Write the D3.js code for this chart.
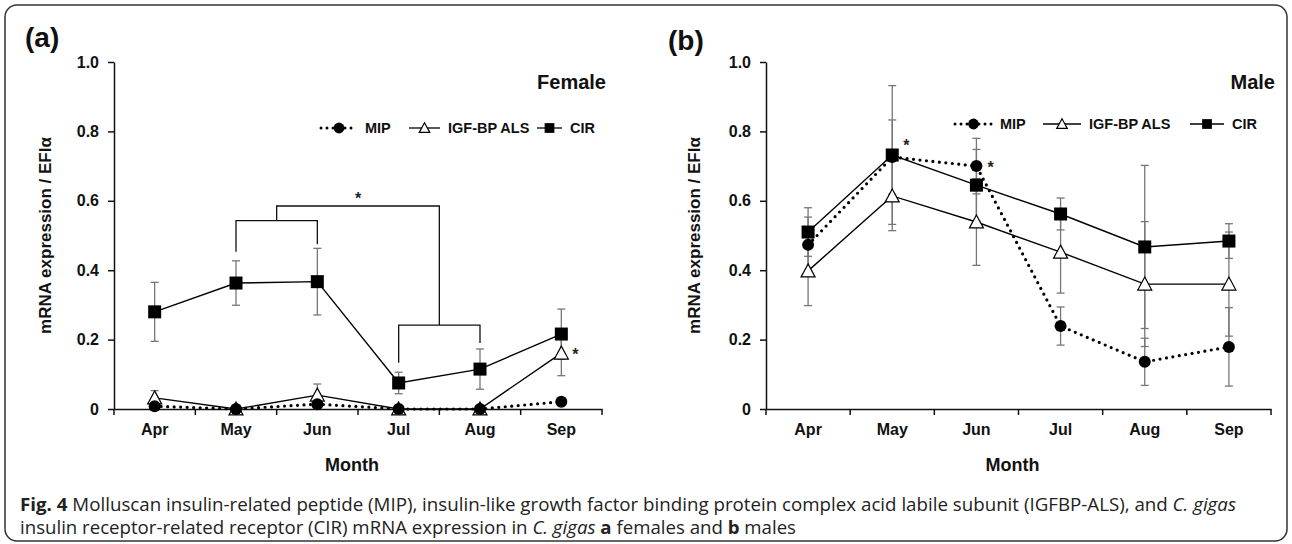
<!DOCTYPE html>
<html>
<head>
<meta charset="utf-8">
<script src="https://cdn.jsdelivr.net/npm/d3@7"></script>
<style>
  body { margin: 0; background: #fff; }
  svg { display: block; }
  .tick text { font-family: "Liberation Sans", Arial, sans-serif; font-weight: bold; }
</style>
</head>
<body>
<script>
// ---- data ----
var months = ["Apr", "May", "Jun", "Jul", "Aug", "Sep"];
var yTicks = [0, 0.2, 0.4, 0.6, 0.8, 1.0];
var seriesNames = ["MIP", "IGF-BP ALS", "CIR"];

// Female
var femaleMIP = [0.008, 0.0, 0.014, 0.0, 0.0, 0.021];
var femaleMIPErr = [0, 0, 0, 0, 0, 0];
var femaleIGF = [0.032, 0.0, 0.04, 0.0, 0.0, 0.161];
var femaleIGFErr = [0.021, 0, 0.032, 0, 0, 0.065];
var femaleCIR = [0.28, 0.363, 0.367, 0.075, 0.115, 0.216];
var femaleCIRErr = [0.085, 0.064, 0.096, 0.031, 0.058, 0.072];

// Male
var maleMIP = [0.473, 0.726, 0.70, 0.239, 0.136, 0.179];
var maleMIPErr = [0.08, 0.107, 0.08, 0.055, 0.068, 0.113];
var maleIGF = [0.398, 0.614, 0.539, 0.452, 0.36, 0.36];
var maleIGFErr = [0.1, 0.1, 0.125, 0.118, 0.18, 0.15];
var maleCIR = [0.51, 0.732, 0.645, 0.562, 0.467, 0.484];
var maleCIRErr = [0.07, 0.2, 0.103, 0.046, 0.235, 0.05];

// significance marks
var femaleStars = [{ month: "Sep", value: 0.161 }];
var maleStars = [{ month: "May", value: 0.765 }, { month: "Jun", value: 0.70 }];

var W = 1292, H = 544;
var FONT = '"Liberation Sans", Arial, sans-serif';

var svg = d3.select("body").append("svg")
    .attr("width", W)
    .attr("height", H);

// outer frame
svg.append("rect")
    .attr("x", 5).attr("y", 5)
    .attr("width", W - 10).attr("height", H - 8)
    .attr("rx", 12)
    .attr("fill", "none")
    .attr("stroke", "#333")
    .attr("stroke-width", 1.5);

var panels = [
    {
        tag: "(a)", title: "Female", left: 114, right: 602, tagX: 25, tagY: 47,
        mip: femaleMIP, mipErr: femaleMIPErr, igf: femaleIGF, igfErr: femaleIGFErr,
        cir: femaleCIR, cirErr: femaleCIRErr, stars: femaleStars,
        legendY: 128, legendX: [321, 409, 537], legLen: [36, 31, 25], ylabX: 45
    },
    {
        tag: "(b)", title: "Male", left: 766, right: 1271, tagX: 668, tagY: 50,
        mip: maleMIP, mipErr: maleMIPErr, igf: maleIGF, igfErr: maleIGFErr,
        cir: maleCIR, cirErr: maleCIRErr, stars: maleStars,
        legendY: 124, legendX: [955, 1043, 1190], legLen: [37, 38, 34], ylabX: 694
    }
];

panels.forEach(drawPanel);

function drawPanel(p) {
    var g = svg.append("g");

    var x = d3.scaleBand().domain(months).range([p.left, p.right]).padding(0);
    var y = d3.scaleLinear().domain([0, 1]).range([409, 62]);
    var cx = function (i) { return x(months[i]) + x.bandwidth() / 2; };

    // y axis
    var yAxis = d3.axisLeft(y)
        .tickValues(yTicks)
        .tickSize(6)
        .tickSizeOuter(0)
        .tickPadding(9)
        .tickFormat(function (d) { return d === 0 ? "0" : d3.format(".1f")(d); });
    var ya = g.append("g").attr("transform", "translate(" + p.left + ",0)").call(yAxis);
    ya.selectAll("text").style("font-size", "16px").attr("fill", "#111");
    ya.selectAll("line, path").attr("stroke", "#111").attr("stroke-width", 1.5);

    // x axis: line, boundary ticks, centred labels
    var xAxis = d3.axisBottom(x).tickSize(0).tickSizeOuter(0).tickPadding(15);
    var xa = g.append("g").attr("transform", "translate(0,409)").call(xAxis);
    xa.selectAll("text").style("font-size", "16px").attr("fill", "#111");
    xa.select("path").attr("stroke", "#111").attr("stroke-width", 1.5);
    g.selectAll("line.xb")
        .data(d3.range(months.length + 1))
        .enter().append("line")
        .attr("class", "xb")
        .attr("x1", function (i) { return p.left + i * x.bandwidth(); })
        .attr("x2", function (i) { return p.left + i * x.bandwidth(); })
        .attr("y1", 409).attr("y2", 415)
        .attr("stroke", "#111").attr("stroke-width", 1.5);

    // axis titles
    g.append("text")
        .attr("x", (p.left + p.right) / 2 - 6).attr("y", 471)
        .attr("text-anchor", "middle")
        .style("font", "bold 18px " + FONT).attr("fill", "#111")
        .text("Month");
    g.append("text")
        .attr("transform", "translate(" + (p.ylabX + 6) + "," + y(0.5) + ") rotate(-90)")
        .attr("text-anchor", "middle")
        .style("font", "bold 17px " + FONT).attr("fill", "#111")
        .text("mRNA expression / EFIα");

    // panel tag and sex label
    g.append("text").attr("x", p.tagX).attr("y", p.tagY)
        .style("font", "bold 28px " + FONT).attr("fill", "#111").text(p.tag);
    g.append("text").attr("x", p.right + 4).attr("y", 89)
        .attr("text-anchor", "end")
        .style("font", "bold 20px " + FONT).attr("fill", "#111").text(p.title);

    if (p.tag === "(a)") drawBrackets(g, x, y, cx);

    var series = [
        { name: "CIR", v: p.cir, e: p.cirErr, type: "square", dotted: false },
        { name: "IGF-BP ALS", v: p.igf, e: p.igfErr, type: "triangle", dotted: false },
        { name: "MIP", v: p.mip, e: p.mipErr, type: "circle", dotted: true }
    ];

    // error bars first (grey), so markers sit on top
    series.forEach(function (s) {
        s.v.forEach(function (v, i) {
            if (!s.e[i]) return;
            var x0 = cx(i), top = y(v + s.e[i]), bot = y(Math.max(0, v - s.e[i]));
            var eb = g.append("g").attr("stroke", "#777").attr("stroke-width", 1.3);
            eb.append("line").attr("x1", x0).attr("x2", x0).attr("y1", top).attr("y2", bot);
            eb.append("line").attr("x1", x0 - 4).attr("x2", x0 + 4).attr("y1", top).attr("y2", top);
            if (v - s.e[i] > 0)
                eb.append("line").attr("x1", x0 - 4).attr("x2", x0 + 4).attr("y1", bot).attr("y2", bot);
        });
    });

    var line = d3.line()
        .x(function (d, i) { return cx(i); })
        .y(function (d) { return y(d); });

    series.forEach(function (s) {
        g.append("path")
            .datum(s.v)
            .attr("d", line)
            .attr("fill", "none")
            .attr("stroke", "#000")
            .attr("stroke-width", s.dotted ? 3.2 : 1.4)
            .attr("stroke-linecap", s.dotted ? "round" : "butt")
            .attr("stroke-dasharray", s.dotted ? "0 6.5" : null);
    });

    series.forEach(function (s) {
        s.v.forEach(function (v, i) {
            marker(g, s.type, cx(i), y(v));
        });
    });

    // significance stars
    g.selectAll("text.star")
        .data(p.stars)
        .enter().append("text")
        .attr("x", function (d) { return x(d.month) + x.bandwidth() / 2 + 11; })
        .attr("y", function (d) { return y(d.value) + 7; })
        .style("font", "bold 16px " + FONT).attr("fill", "#222")
        .text("*");

    // legend
    var leg = g.append("g").attr("transform", "translate(0," + p.legendY + ")");
    var legTypes = ["circle", "triangle", "square"];
    seriesNames.forEach(function (name, k) {
        var lx = p.legendX[k], len = p.legLen[k];
        leg.append("line")
            .attr("x1", lx).attr("x2", lx + len)
            .attr("stroke", "#000")
            .attr("stroke-width", k === 0 ? 3 : 1.3)
            .attr("stroke-linecap", k === 0 ? "round" : "butt")
            .attr("stroke-dasharray", k === 0 ? "0 6" : null);
        marker(leg, legTypes[k], lx + len / 2, 0, k === 0 ? 0.9 : 0.75);
        leg.append("text")
            .attr("x", lx + len + 8).attr("y", 5)
            .style("font", "bold 14.5px " + FONT).attr("fill", "#111")
            .text(name);
    });
}

function marker(g, type, x0, y0, k) {
    k = k || 1;
    if (type === "circle") {
        g.append("circle").attr("cx", x0).attr("cy", y0).attr("r", 6 * k).attr("fill", "#000");
    } else if (type === "square") {
        var s = 13 * k;
        g.append("rect").attr("x", x0 - s / 2).attr("y", y0 - s / 2)
            .attr("width", s).attr("height", s).attr("fill", "#000");
    } else {
        var t = 7 * k;
        g.append("path")
            .attr("d", "M" + x0 + "," + (y0 - t) + "L" + (x0 + t) + "," + (y0 + t * 0.85) +
                "L" + (x0 - t) + "," + (y0 + t * 0.85) + "Z")
            .attr("fill", "#fff").attr("stroke", "#000").attr("stroke-width", 1.2);
    }
}

// brackets for the female May/Jun vs Jul/Aug comparison
function drawBrackets(g, x, y, cx) {
    var mid1 = (cx(1) + cx(2)) / 2, mid2 = (cx(3) + cx(4)) / 2;
    g.append("path")
        .attr("d",
            "M" + cx(1) + "," + y(0.453) + "V" + y(0.543) + "H" + cx(2) + "V" + y(0.475) +
            "M" + mid1 + "," + y(0.543) + "V" + y(0.585) + "H" + mid2 + "V" + y(0.242) +
            "M" + cx(3) + "," + y(0.133) + "V" + y(0.242) + "H" + cx(4) + "V" + y(0.19))
        .attr("fill", "none")
        .attr("stroke", "#111")
        .attr("stroke-width", 1.3);
    g.append("text")
        .attr("x", (mid1 + mid2) / 2).attr("y", y(0.585) - 2)
        .attr("text-anchor", "middle")
        .style("font", "bold 16px " + FONT).attr("fill", "#222")
        .text("*");
}

// caption
var cap = svg.append("g").style("font", "18.5px 'Open Sans', sans-serif").attr("fill", "#222");
var c1 = cap.append("text").attr("x", 20).attr("y", 511)
    .attr("textLength", 1216).attr("lengthAdjust", "spacingAndGlyphs");
c1.append("tspan").style("font-weight", "bold").text("Fig. 4");
c1.append("tspan").text(" Molluscan insulin-related peptide (MIP), insulin-like growth factor binding protein complex acid labile subunit (IGFBP-ALS), and ");
c1.append("tspan").style("font-style", "italic").text("C. gigas");
var c2 = cap.append("text").attr("x", 20).attr("y", 534)
    .attr("textLength", 776).attr("lengthAdjust", "spacingAndGlyphs");
c2.append("tspan").text("insulin receptor-related receptor (CIR) mRNA expression in ");
c2.append("tspan").style("font-style", "italic").text("C. gigas");
c2.append("tspan").text(" ");
c2.append("tspan").style("font-weight", "bold").text("a");
c2.append("tspan").text(" females and ");
c2.append("tspan").style("font-weight", "bold").text("b");
c2.append("tspan").text(" males");
</script>
</body>
</html>
